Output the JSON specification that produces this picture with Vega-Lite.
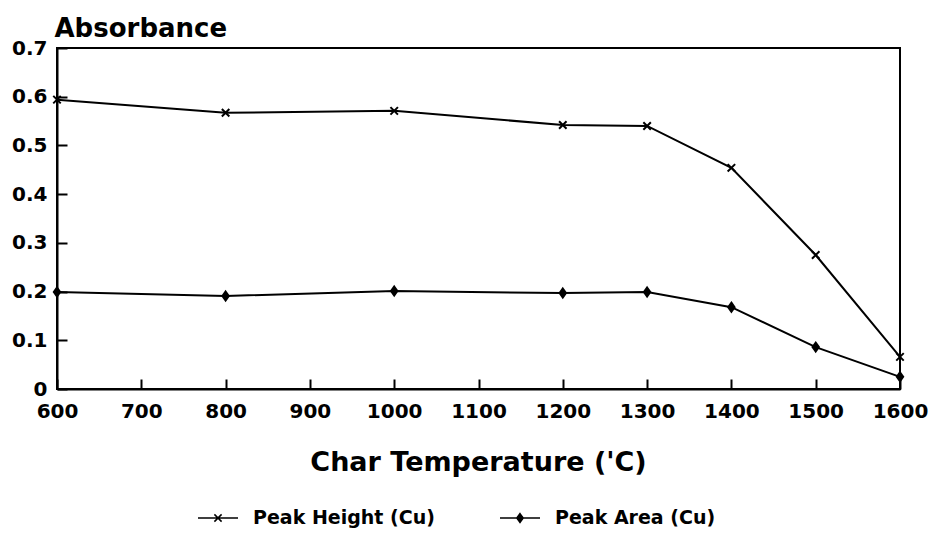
{
  "$schema": "https://vega.github.io/schema/vega-lite/v6.json",
  "width": 843,
  "height": 341,
  "autosize": {"type": "none"},
  "padding": {"left": 57, "top": 48, "right": 32, "bottom": 146},
  "background": "white",
  "config": {
    "view": {"stroke": "black", "strokeWidth": 2},
    "font": "DejaVu Sans",
    "axis": {"grid": false, "domainColor": "black", "domainWidth": 2, "tickColor": "black", "tickWidth": 2, "labelColor": "black", "titleColor": "black", "labelFont": "DejaVu Sans", "labelFontWeight": "bold", "labelFontSize": 20, "titleFont": "DejaVu Sans", "titleFontWeight": "bold"}
  },
  "data": {
    "values": [
      {"temp": 600, "series": "Peak Height (Cu)", "abs": 0.594},
      {"temp": 800, "series": "Peak Height (Cu)", "abs": 0.567},
      {"temp": 1000, "series": "Peak Height (Cu)", "abs": 0.571},
      {"temp": 1200, "series": "Peak Height (Cu)", "abs": 0.542},
      {"temp": 1300, "series": "Peak Height (Cu)", "abs": 0.540},
      {"temp": 1400, "series": "Peak Height (Cu)", "abs": 0.454},
      {"temp": 1500, "series": "Peak Height (Cu)", "abs": 0.275},
      {"temp": 1600, "series": "Peak Height (Cu)", "abs": 0.066},
      {"temp": 600, "series": "Peak Area (Cu)", "abs": 0.199},
      {"temp": 800, "series": "Peak Area (Cu)", "abs": 0.191},
      {"temp": 1000, "series": "Peak Area (Cu)", "abs": 0.201},
      {"temp": 1200, "series": "Peak Area (Cu)", "abs": 0.197},
      {"temp": 1300, "series": "Peak Area (Cu)", "abs": 0.199},
      {"temp": 1400, "series": "Peak Area (Cu)", "abs": 0.168},
      {"temp": 1500, "series": "Peak Area (Cu)", "abs": 0.086},
      {"temp": 1600, "series": "Peak Area (Cu)", "abs": 0.025}
    ]
  },
  "encoding": {
    "x": {
      "field": "temp", "type": "quantitative",
      "scale": {"domain": [600, 1600], "nice": false, "zero": false},
      "axis": {"values": [600, 700, 800, 900, 1000, 1100, 1200, 1300, 1400, 1500, 1600], "format": "d", "tickSize": -10, "labelPadding": 22, "title": "Char Temperature ('C)", "titleFontSize": 27, "titleBaseline": "alphabetic", "titleY": 81, "titleX": 421, "labelFlush": false}
    },
    "y": {
      "field": "abs", "type": "quantitative",
      "scale": {"domain": [0, 0.7], "nice": false},
      "axis": {"values": [0, 0.1, 0.2, 0.3, 0.4, 0.5, 0.6, 0.7], "tickSize": -10, "labelPadding": 20, "labelExpr": "datum.value == 0 ? '0' : format(datum.value, '.1f')", "title": "Absorbance", "titleAngle": 0, "titleAlign": "left", "titleBaseline": "alphabetic", "titleX": -3, "titleY": -12, "titleFontSize": 26}
    }
  },
  "layer": [
    {
      "mark": {"type": "line", "color": "black", "strokeWidth": 2},
      "encoding": {"detail": {"field": "series"}}
    },
    {
      "mark": {"type": "point", "filled": true, "fill": "black", "stroke": "black", "strokeWidth": 2, "opacity": 1, "size": 56},
      "encoding": {
        "shape": {"field": "series", "type": "nominal",
          "scale": {"domain": ["Peak Height (Cu)", "Peak Area (Cu)"], "range": ["M-1,-1L1,1M-1,1L1,-1", "M0,-1.2L0.85,0L0,1.2L-0.85,0Z"]},
          "legend": null}
      }
    },
    {
      "mark": {"type": "point", "filled": true, "fill": "black", "stroke": "black", "strokeWidth": 2, "opacity": 0, "size": 1600},
      "encoding": {
        "shape": {"field": "series", "type": "nominal",
          "scale": {"domain": ["Peak Height (Cu)", "Peak Area (Cu)"], "range": ["M-1,0H1M-0.18,-0.18L0.18,0.18M-0.18,0.18L0.18,-0.18", "M-1,0H1M0,-0.22L0.16,0L0,0.22L-0.16,0Z"]},
          "legend": {"title": null, "orient": "none", "direction": "horizontal", "legendX": 140, "legendY": 449, "symbolSize": 1600, "labelFont": "DejaVu Sans", "labelFontWeight": "bold", "labelFontSize": 19, "labelColor": "black", "columnPadding": 62, "labelOffset": 14, "labelLimit": 300,
            "encode": {"symbols": {"update": {"opacity": {"value": 1}, "fill": {"value": "black"}, "stroke": {"value": "black"}, "strokeWidth": {"value": 2}, "strokeOpacity": {"value": 1}, "fillOpacity": {"value": 1}}}}}
        }
      }
    }
  ],
  "resolve": {"scale": {"shape": "independent"}}
}
